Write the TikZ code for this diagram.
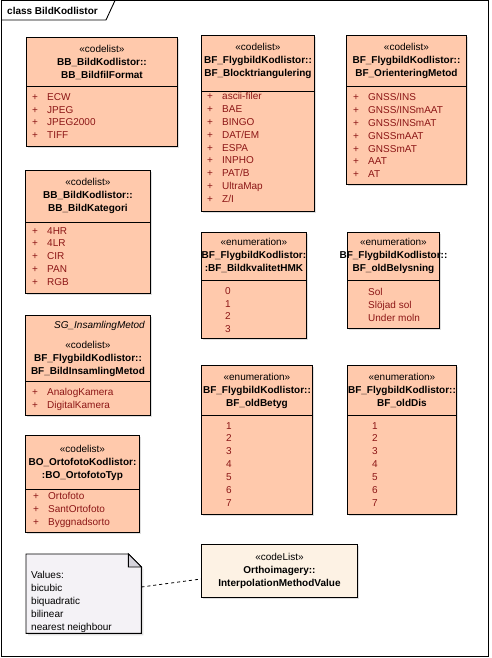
\documentclass[tikz,border=0pt]{standalone}
\usepackage{fontspec}
\setmainfont{Liberation Sans}
\usetikzlibrary{positioning, shadows, calc}
\definecolor{boxcol}{RGB}{255,201,172}
\definecolor{extcol}{RGB}{253,242,228}
\definecolor{notecol}{RGB}{244,242,246}
\definecolor{foldcol}{RGB}{214,212,220}
\definecolor{attrcol}{RGB}{140,22,22}
\newcommand{\lit}[1]{\makebox[15pt][l]{+}#1}

\begin{document}
\begin{tikzpicture}[
			x=1pt,
			y=-1pt,
			font=\fontsize{10}{12.9}\selectfont,
			umlbox/.style={
				draw=black,
				line width=0.9pt,
				fill=boxcol,
				anchor=north west,
				inner sep=0pt,
				drop shadow={shadow xshift=2pt, shadow yshift=-2pt, fill=black!25}
			},
			extbox/.style={
				umlbox,
				fill=extcol
			},
			head/.style={
				anchor=north,
				align=center,
				inner sep=0pt
			},
			items/.style={
				anchor=north west,
				align=left,
				inner sep=0pt,
				text=attrcol
			},
			sep/.style={
				draw=black,
				line width=0.9pt
			}
			]
			\useasboundingbox (0,0) rectangle (491,658);
			
			% Frame
			\draw[line width=0.9pt] (1,0.5) rectangle (488,656.5);
			\draw[line width=0.9pt] (1,20) -- (106,20) -- (115,0.5);
			\node[anchor=west, inner sep=0pt, font=\fontsize{10}{12}\selectfont\bfseries] (title) at (7,11) {class BildKodlistor};
			
			% Code lists
			\node[umlbox, minimum width=151, minimum height=109] (fmt) at (26,37) {};
			\draw[sep] (fmt.west |- 0,86) -- (fmt.east |- 0,86);
			\node[head] (fmt-h) at (fmt.north |- 0,45) {«codelist»\\\textbf{BB\_BildKodlistor::}\\\textbf{BB\_BildfilFormat}};
			\node[items] (fmt-a) at (32,93) {\lit{ECW}\\\lit{JPEG}\\\lit{JPEG2000}\\\lit{TIFF}};
			
			\node[umlbox, minimum width=113, minimum height=176] (blk) at (201,35) {};
			\draw[sep] (blk.west |- 0,91) -- (blk.east |- 0,91);
			\node[head] (blk-h) at (blk.north |- 0,43) {«codelist»\\\textbf{BF\_FlygbildKodlistor::}\\\textbf{BF\_Blocktriangulering}};
			\node[items] (blk-a) at (207,92) {\lit{ascii-filer}\\\lit{BAE}\\\lit{BINGO}\\\lit{DAT/EM}\\\lit{ESPA}\\\lit{INPHO}\\\lit{PAT/B}\\\lit{UltraMap}\\\lit{Z/I}};
			
			\node[umlbox, minimum width=120, minimum height=149] (ori) at (346,35) {};
			\draw[sep] (ori.west |- 0,86) -- (ori.east |- 0,86);
			\node[head] (ori-h) at (ori.north |- 0,43) {«codelist»\\\textbf{BF\_FlygbildKodlistor::}\\\textbf{BF\_OrienteringMetod}};
			\node[items] (ori-a) at (353,93) {\lit{GNSS/INS}\\\lit{GNSS/INSmAAT}\\\lit{GNSS/INSmAT}\\\lit{GNSSmAAT}\\\lit{GNSSmAT}\\\lit{AAT}\\\lit{AT}};
			
			\node[umlbox, minimum width=125, minimum height=123] (kat) at (25,170) {};
			\draw[sep] (kat.west |- 0,222) -- (kat.east |- 0,222);
			\node[head] (kat-h) at (kat.north |- 0,178) {«codelist»\\\textbf{BB\_BildKodlistor::}\\\textbf{BB\_BildKategori}};
			\node[items] (kat-a) at (32,227) {\lit{4HR}\\\lit{4LR}\\\lit{CIR}\\\lit{PAN}\\\lit{RGB}};
			
			\node[umlbox, minimum width=125, minimum height=100] (ins) at (25,315) {};
			\draw[sep] (ins.west |- 0,381) -- (ins.east |- 0,381);
			\node[anchor=north east, inner sep=0pt, font=\itshape] (ins-t) at (145,321) {SG\_InsamlingMetod};
			\node[head] (ins-h) at (ins.north |- 0,341) {«codelist»\\\textbf{BF\_FlygbildKodlistor::}\\\textbf{BF\_BildInsamlingMetod}};
			\node[items] (ins-a) at (32,388) {\lit{AnalogKamera}\\\lit{DigitalKamera}};
			
			\node[umlbox, minimum width=114, minimum height=97] (ort) at (25,435) {};
			\draw[sep] (ort.west |- 0,489) -- (ort.east |- 0,489);
			\node[head] (ort-h) at (ort.north |- 0,445) {«codelist»\\\textbf{BO\_OrtofotoKodlistor:}\\\textbf{:BO\_OrtofotoTyp}};
			\node[items] (ort-a) at (33,492) {\lit{Ortofoto}\\\lit{SantOrtofoto}\\\lit{Byggnadsorto}};
			
			% Enumerations
			\node[umlbox, minimum width=105, minimum height=106] (hmk) at (201,232) {};
			\draw[sep] (hmk.west |- 0,280) -- (hmk.east |- 0,280);
			\node[head] (hmk-h) at (hmk.north |- 0,238) {«enumeration»\\\textbf{BF\_FlygbildKodlistor:}\\\textbf{:BF\_BildkvalitetHMK}};
			\node[items] (hmk-a) at (225,287) {0\\1\\2\\3};
			
			\node[umlbox, minimum width=92, minimum height=96] (bel) at (347,232) {};
			\draw[sep] (bel.west |- 0,280) -- (bel.east |- 0,280);
			\node[head] (bel-h) at (bel.north |- 0,238) {«enumeration»\\\textbf{BF\_FlygbildKodlistor::}\\\textbf{BF\_oldBelysning}};
			\node[items] (bel-a) at (368,288) {Sol\\Slöjad sol\\Under moln};
			
			\node[umlbox, minimum width=111, minimum height=149] (bet) at (201,365) {};
			\draw[sep] (bet.west |- 0,415) -- (bet.east |- 0,415);
			\node[head] (bet-h) at (bet.north |- 0,373) {«enumeration»\\\textbf{BF\_FlygbildKodlistor::}\\\textbf{BF\_oldBetyg}};
			\node[items] (bet-a) at (226,422) {1\\2\\3\\4\\5\\6\\7};
			
			\node[umlbox, minimum width=109, minimum height=149] (dis) at (347,365) {};
			\draw[sep] (dis.west |- 0,415) -- (dis.east |- 0,415);
			\node[head] (dis-h) at (dis.north |- 0,373) {«enumeration»\\\textbf{BF\_FlygbildKodlistor::}\\\textbf{BF\_oldDis}};
			\node[items] (dis-a) at (372,422) {1\\2\\3\\4\\5\\6\\7};
			
			% External code list
			\node[extbox, minimum width=156, minimum height=53] (ipm) at (201,544) {};
			\node[head] (ipm-h) at (ipm.north |- 0,553) {«codeList»\\\textbf{Orthoimagery::}\\\textbf{InterpolationMethodValue}};
			
			% Note
			\node[anchor=north west, inner sep=0pt, minimum width=115, minimum height=79] (note) at (26,554) {};
			\draw[line width=0.9pt, fill=notecol, drop shadow={shadow xshift=2pt, shadow yshift=-2pt, fill=black!25}]
			(note.north west) -- ($(note.north east)+(-13,0)$) -- ($(note.north east)+(0,13)$) -- (note.south east) -- (note.south west) -- cycle;
			\draw[line width=0.9pt, fill=foldcol] ($(note.north east)+(-13,0)$) |- ($(note.north east)+(0,13)$) -- cycle;
			\node[anchor=north west, align=left, inner sep=0pt] (note-t) at (31,571) {Values:\\bicubic\\biquadratic\\bilinear\\nearest neighbour};
			
			% Link
			\draw[dashed, line width=0.8pt] (note.east |- 0,587) -- (ipm.west |- 0,579);
		\end{tikzpicture}
\end{document}
